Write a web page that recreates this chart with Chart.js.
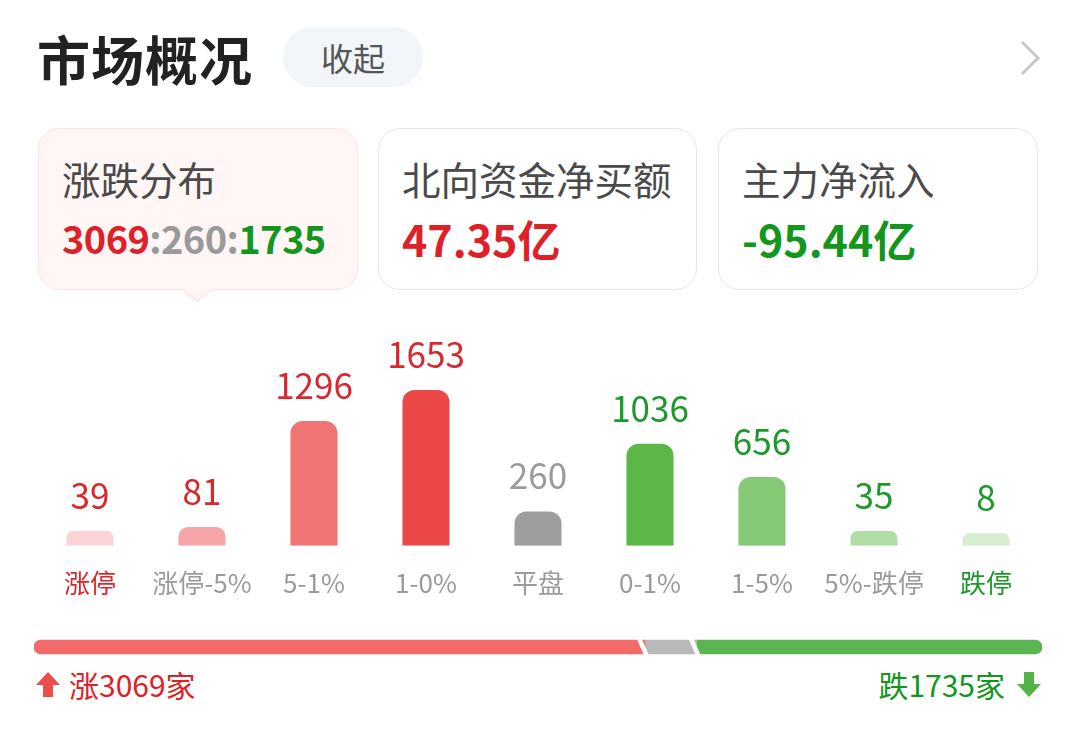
<!DOCTYPE html>
<html lang="zh-CN">
<head>
<meta charset="utf-8">
<title>市场概况</title>
<script src="https://cdn.jsdelivr.net/npm/chart.js@4.4.1/dist/chart.umd.min.js"></script>
<style>
  html, body { margin: 0; padding: 0; background: #fff; }
  body { width: 1078px; height: 733px; position: relative; overflow: hidden;
         font-family: "Noto Sans CJK SC", "Noto Sans", sans-serif; }
  .abs { position: absolute; }
  .title { left: 37px; top: 26px; font-size: 53px; line-height: 64px; font-weight: 700; color: #222; letter-spacing: 1px; }
  .pill { left: 283px; top: 27px; width: 140px; height: 60px; border-radius: 30px; background: #f2f6fa;
          font-size: 32px; line-height: 60px; text-align: center; color: #555; }
  .card { top: 128px; height: 162px; border-radius: 22px; box-sizing: border-box; border: 1.5px solid #e6e6e6; background: #fff; }
  .card.on { background: #fff6f5; border-color: #fbe3e1; }
  .card .t { position: absolute; left: 23px; top: 27px; font-size: 38.5px; line-height: 44px; color: #4a4a4a; white-space: nowrap; }
  .card .v { position: absolute; left: 23px; top: 83px; font-size: 43px; line-height: 52px; font-weight: 700; white-space: nowrap; }
  .card .v.ratio { font-size: 38px; letter-spacing: -0.6px; }
  .red { color: #de2128; }
  .green { color: #12961c; }
  .grey { color: #9a9a9a; }
  #barBox { left: 34px; top: 320px; width: 1008px; height: 313px; }
  #ratioBox { left: 34px; top: 632px; width: 1008px; height: 30px; }
  .foot { top: 664px; font-size: 30px; line-height: 40px; white-space: nowrap; }
</style>
</head>
<body>
<div class="abs title">市场概况</div>
<div class="abs pill">收起</div>
<svg class="abs" style="left:1016px;top:38px" width="30" height="40" viewBox="0 0 30 40">
  <polyline points="6,4 22,20 6,36" fill="none" stroke="#c8c8c8" stroke-width="3"/>
</svg>

<div class="abs card on" style="left:38px;width:320px">
  <div class="t">涨跌分布</div>
  <div class="v ratio" id="ratioText"></div>
</div>
<svg class="abs" style="left:180px;top:287px" width="34" height="16" viewBox="0 0 34 16">
  <path d="M2,2 L17,14 L32,2" fill="#fff6f5" stroke="#fbe3e1" stroke-width="1.5"/>
  <rect x="0" y="0" width="34" height="2.5" fill="#fff6f5"/>
</svg>
<div class="abs card" style="left:378px;width:319px">
  <div class="t">北向资金净买额</div>
  <div class="v red" id="northText"></div>
</div>
<div class="abs card" style="left:718px;width:320px">
  <div class="t">主力净流入</div>
  <div class="v green" id="mainText"></div>
</div>

<div class="abs" id="barBox"><canvas id="barChart"></canvas></div>
<div class="abs" id="ratioBox"><canvas id="ratioChart"></canvas></div>

<svg class="abs" style="left:35px;top:671px" width="26" height="27" viewBox="0 0 26 27">
  <path d="M13,1 L25,14 L18,14 L18,26 L8,26 L8,14 L1,14 Z" fill="#ee4b4b"/>
</svg>
<div class="abs foot red" id="upText" style="left:69px"></div>
<div class="abs foot green" id="downText" style="right:73px"></div>
<svg class="abs" style="left:1016px;top:671px" width="26" height="27" viewBox="0 0 26 27">
  <path d="M8,1 L18,1 L18,13 L25,13 L13,26 L1,13 L8,13 Z" fill="#52b447"/>
</svg>

<script>
// 涨跌分布
const categories = ['涨停', '涨停-5%', '5-1%', '1-0%', '平盘', '0-1%', '1-5%', '5%-跌停', '跌停'];
const counts = [39, 81, 1296, 1653, 260, 1036, 656, 35, 8];
const upCount = 3069;
const flatCount = 260;
const downCount = 1735;
const northFlow = 47.35;   // 亿
const mainFlow = -95.44;   // 亿

// colours
const barColors = ['#fcd3d6', '#f6a5a8', '#f07474', '#ec4848', '#9e9e9e', '#5cb846', '#85c977', '#b0dca5', '#d6edd0'];
const RED = '#d8272e', GREY = '#9a9a9a', GREEN = '#1c992a';
const valueColors = [RED, RED, RED, RED, GREY, GREEN, GREEN, GREEN, GREEN];
const tickColors = [RED, GREY, GREY, GREY, GREY, GREY, GREY, GREY, GREEN];
const FONT = '"Noto Sans CJK SC", "Noto Sans", sans-serif';

document.getElementById('ratioText').innerHTML =
  '<span class="red">' + upCount + '</span><span class="grey">:' + flatCount + ':</span><span class="green">' + downCount + '</span>';
document.getElementById('northText').textContent = northFlow.toFixed(2) + '亿';
document.getElementById('mainText').textContent = mainFlow.toFixed(2) + '亿';
document.getElementById('upText').textContent = '涨' + upCount + '家';
document.getElementById('downText').textContent = '跌' + downCount + '家';

// numbers above the bars
const valueLabels = {
  id: 'valueLabels',
  afterDatasetsDraw(chart) {
    const ctx = chart.ctx;
    const meta = chart.getDatasetMeta(0);
    ctx.save();
    ctx.font = '35px ' + FONT;
    ctx.textAlign = 'center';
    ctx.textBaseline = 'alphabetic';
    meta.data.forEach((bar, i) => {
      ctx.fillStyle = valueColors[i];
      ctx.fillText(String(counts[i]), bar.x, bar.y - 22);
    });
    ctx.restore();
  }
};

// small bars still get a visible stub: bars start below zero
const BAR_FLOOR = -135;

new Chart(document.getElementById('barChart'), {
  type: 'bar',
  data: {
    labels: categories,
    datasets: [{
      data: counts,
      base: BAR_FLOOR,
      backgroundColor: barColors,
      borderRadius: 12,
      barPercentage: 0.42,
      categoryPercentage: 1
    }]
  },
  options: {
    responsive: true,
    maintainAspectRatio: false,
    animation: false,
    layout: { padding: { top: 20, bottom: 12, left: 0, right: 0 } },
    plugins: { legend: { display: false }, tooltip: { enabled: false } },
    scales: {
      x: {
        grid: { display: false, drawTicks: false },
        border: { display: false },
        ticks: {
          color: (c) => tickColors[c.index],
          font: { family: FONT, size: 26 },
          padding: 22,
          maxRotation: 0,
          autoSkip: false
        }
      },
      y: { display: false, min: BAR_FLOOR, max: 2227 }
    }
  },
  plugins: [valueLabels]
});

// slanted white cuts between the segments of the ratio strip
const slantCuts = {
  id: 'slantCuts',
  afterDatasetsDraw(chart) {
    const ctx = chart.ctx;
    const xs = chart.scales.x;
    const bar = chart.getDatasetMeta(0).data[0];
    const top = bar.y - bar.height / 2 - 1;
    const bottom = bar.y + bar.height / 2 + 1;
    ctx.save();
    ctx.fillStyle = '#ffffff';
    [upCount, upCount + flatCount].forEach((v) => {
      const px = xs.getPixelForValue(v) - 2;
      ctx.beginPath();
      ctx.moveTo(px - 6, top);
      ctx.lineTo(px - 1, top);
      ctx.lineTo(px + 6, bottom);
      ctx.lineTo(px + 1, bottom);
      ctx.closePath();
      ctx.fill();
    });
    ctx.restore();
  }
};

new Chart(document.getElementById('ratioChart'), {
  type: 'bar',
  data: {
    labels: [''],
    datasets: [
      { data: [upCount], backgroundColor: '#f26a6a', borderSkipped: false, borderRadius: { topLeft: 7, bottomLeft: 7 } },
      { data: [flatCount], backgroundColor: '#b9b9bc', borderSkipped: false, borderRadius: 0 },
      { data: [downCount], backgroundColor: '#5cb553', borderSkipped: false, borderRadius: { topRight: 7, bottomRight: 7 } }
    ]
  },
  options: {
    indexAxis: 'y',
    responsive: true,
    maintainAspectRatio: false,
    animation: false,
    layout: { padding: 0 },
    plugins: { legend: { display: false }, tooltip: { enabled: false } },
    datasets: { bar: { barThickness: 14 } },
    scales: {
      x: { display: false, stacked: true, min: 0, max: upCount + flatCount + downCount },
      y: { display: false, stacked: true }
    }
  },
  plugins: [slantCuts]
});
</script>
</body>
</html>
